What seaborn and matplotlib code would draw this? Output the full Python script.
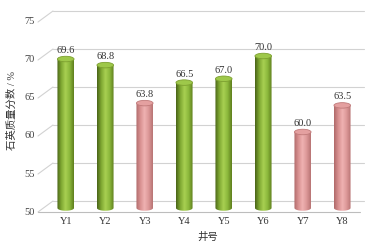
import numpy as np
import matplotlib
matplotlib.use("Agg")
import matplotlib.pyplot as plt
import seaborn as sns
from matplotlib.patches import Ellipse, PathPatch
from matplotlib.path import Path
from matplotlib.colors import LinearSegmentedColormap

# --- data ---
wells = ["Y1", "Y2", "Y3", "Y4", "Y5", "Y6", "Y7", "Y8"]
quartz = [69.6, 68.8, 63.8, 66.5, 67.0, 70.0, 60.0, 63.5]
kinds = ["high", "high", "low", "high", "high", "high", "low", "low"]
yticks = [50, 55, 60, 65, 70, 75]

sns.set_style("white")
plt.rcParams["font.family"] = ["Liberation Serif", "Noto Sans CJK SC"]

W, H = 374, 247
fig = plt.figure(figsize=(W / 100, H / 100), dpi=100)
# axes = the middle (bar) plane of the pseudo-3D box
L, R = 46, 362
y50, y75 = 208, 18
ppu = (y50 - y75) / 25.0
ymin = 49
bottom_px = y50 + (50 - ymin) * ppu
ax = fig.add_axes([L / W, (H - bottom_px) / H, (R - L) / W, (bottom_px - y75) / H])

palette = {"high": "#8db43a", "low": "#d99090"}
sns.barplot(x=wells, y=quartz, hue=kinds, palette=palette, dodge=False,
            legend=False, width=0.42, ax=ax)

cmaps = {
    "high": LinearSegmentedColormap.from_list("g", ["#4a6418", "#7fa832", "#a8d052", "#8cb83c", "#5f7f1e"]),
    "low": LinearSegmentedColormap.from_list("p", ["#b06a6a", "#d89090", "#efb2b2", "#dc9898", "#b87474"]),
}
tops = {"high": ("#9ec84a", "#7da030"), "low": ("#e4a0a0", "#c07a7a")}

ell_h = 5.5 / ppu
grad = np.linspace(0, 1, 64).reshape(1, -1)
for p in list(ax.patches):
    x0, w = p.get_x(), p.get_width()
    v = p.get_height()
    if v <= 0:
        continue
    cx = x0 + w / 2
    i = int(round(cx))
    kind = kinds[i]
    p.set_facecolor("none")
    p.set_edgecolor("none")
    # cylinder body: rectangle + bottom half ellipse
    t = np.linspace(np.pi, 2 * np.pi, 30)
    verts = [(cx + w / 2 * np.cos(a), 50 + ell_h / 2 * np.sin(a)) for a in t]
    verts += [(x0 + w, v), (x0, v), verts[0]]
    codes = [Path.MOVETO] + [Path.LINETO] * (len(verts) - 2) + [Path.CLOSEPOLY]
    body = PathPatch(Path(verts, codes), facecolor="none", edgecolor="none")
    ax.add_patch(body)
    im = ax.imshow(grad, extent=[x0, x0 + w, 50 - ell_h, v], aspect="auto",
                   cmap=cmaps[kind], zorder=3)
    im.set_clip_path(body)
    fc, ec = tops[kind]
    ax.add_patch(Ellipse((cx, v), w, ell_h, facecolor=fc, edgecolor=ec,
                         linewidth=0.6, zorder=4))
    ax.annotate(f"{v:.1f}", (cx, v), xytext=(0, 4), textcoords="offset pixels",
                ha="center", va="bottom", fontsize=7.5, color="#333333")

ax.set_xlim(-0.5, 7.5)
ax.set_ylim(ymin, 75)
ax.set_aspect("auto")
for s in ax.spines.values():
    s.set_visible(False)

# perspective offsets (pixels)
fdx, fdy = -8, -4
bdx, bdy = 7, 7
grid_c = "#d2d2d2"
px = (R - L) / 8.0
for v in yticks:
    yb = v + bdy / ppu
    ax.plot([-0.5 + bdx / px, 7.55], [yb, yb], color=grid_c, lw=0.8,
            clip_on=False, zorder=1)
    ax.plot([-0.5 + fdx / px, -0.5 + bdx / px], [v + fdy / ppu, yb],
            color=grid_c, lw=0.8, clip_on=False, zorder=1)
    ax.annotate(str(v), (-0.5, v), xytext=(fdx - 3, fdy),
                textcoords="offset pixels", ha="right", va="center",
                fontsize=7.5, color="#444444", annotation_clip=False)
# front floor edge
ax.plot([-0.5 + fdx / px, 7.45], [50 + fdy / ppu] * 2, color="#bdbdbd",
        lw=0.8, clip_on=False, zorder=1)

ax.set_xticks(range(len(wells)))
ax.set_xticklabels(wells, fontsize=7.5, color="#333333")
ax.tick_params(axis="x", length=0, pad=1.0)
ax.set_yticks([])
ax.set_xlabel("")
ax.set_ylabel("")

fig.text(12 / W, 1 - 110 / H, "石英质量分数 / %", rotation=90, ha="center",
         va="center", fontsize=7.5, color="#333333")
fig.text(208 / W, 1 - 237 / H, "井号", ha="center", va="center",
         fontsize=7.5, color="#333333")

fig.savefig("out.png", dpi=100)
